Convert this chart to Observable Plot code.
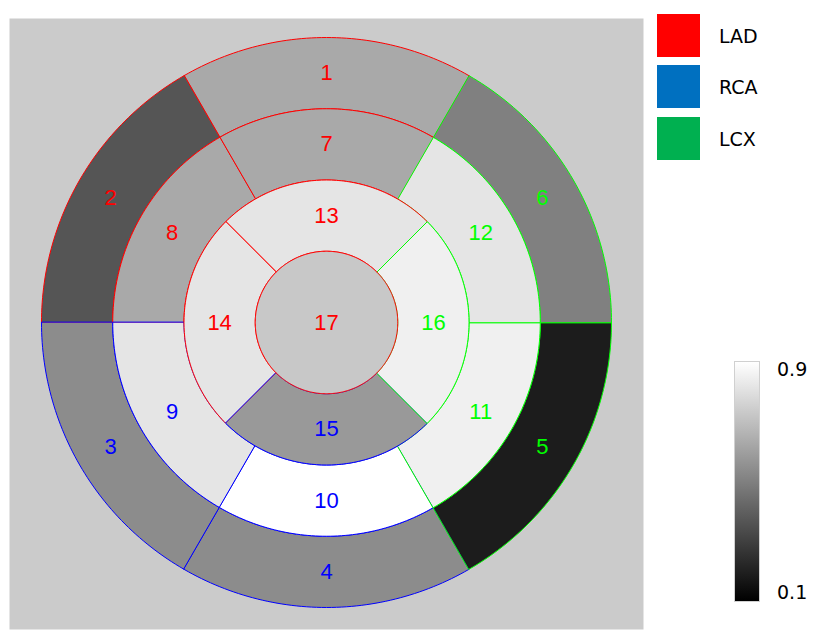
<!DOCTYPE html>
<html><head><meta charset="utf-8">
<script src="https://cdn.jsdelivr.net/npm/d3@7"></script>
<script src="https://cdn.jsdelivr.net/npm/@observablehq/plot@0.6"></script>
<style>
body{margin:0;background:#fff;}
#wrap{position:relative;width:827px;height:639px;overflow:hidden;}
#chart{position:absolute;left:0;top:0;}
.sw{position:absolute;left:657px;width:43px;height:43px;}
.lab{position:absolute;left:719px;height:43px;line-height:43px;font-family:"DejaVu Sans",sans-serif;font-size:19px;color:#000;}
#cbar{position:absolute;left:734px;top:361px;width:26px;height:241px;box-sizing:border-box;border:1px solid #d0d0d0;}
.tick{position:absolute;left:777px;height:20px;line-height:20px;font-family:"DejaVu Sans",sans-serif;font-size:19px;color:#000;}
</style></head><body>
<div id="wrap"><div id="chart"></div></div>
<script>
// ---- data ----
const segments = [1,2,3,4,5,6,7,8,9,10,11,12,13,14,15,16,17];
const values = [0.63,0.367,0.539,0.539,0.188,0.50,0.63,0.63,0.818,0.90,0.853,0.818,0.818,0.818,0.58,0.853,0.727];
const territories = ["LAD","LAD","RCA","RCA","LCX","LCX","LAD","LAD","RCA","RCA","LCX","LCX","LAD","LAD","RCA","LCX","LAD"];
const territoryNames = ["LAD","RCA","LCX"];
const legendColors = ["#ff0000","#0070c0","#00b050"];
const lineColors = ["#ff0000","#0000ff","#00ff00"];
const colorbarTicks = [0.1, 0.9];
const colorDomain = [0.1, 0.9];

// ---- bull's eye geometry (AHA 17-segment model) ----
function geom(s) {
  if (s === 17) return {r0: 0, r1: 1, a0: 0, a1: 360};
  if (s <= 6) return {r0: 3, r1: 4, a0: 60 * s, a1: 60 * s + 60};
  if (s <= 12) return {r0: 2, r1: 3, a0: 60 * (s - 6), a1: 60 * (s - 6) + 60};
  const a0 = 45 + 90 * (s - 13);
  return {r0: 1, r1: 2, a0, a1: a0 + 90};
}
const rad = Math.PI / 180;
function poly(s, i) {
  const g = geom(s), pts = [];
  const n = Math.ceil(g.a1 - g.a0);
  for (let k = 0; k <= n; k++) {
    const a = (g.a0 + (g.a1 - g.a0) * k / n) * rad;
    pts.push({x: g.r1 * Math.cos(a), y: g.r1 * Math.sin(a), value: values[i], seg: s});
  }
  if (g.r0 > 0) {
    for (let k = n; k >= 0; k--) {
      const a = (g.a0 + (g.a1 - g.a0) * k / n) * rad;
      pts.push({x: g.r0 * Math.cos(a), y: g.r0 * Math.sin(a), value: values[i], seg: s});
    }
  } else pts.pop();
  return pts;
}
const labels = segments.map((s, i) => {
  const g = geom(s);
  const r = s === 17 ? 0 : (g.r0 + g.r1) / 2, a = (g.a0 + g.a1) / 2 * rad;
  return {x: r * Math.cos(a), y: r * Math.sin(a), text: String(s), terr: territories[i]};
});
const lineColor = t => lineColors[territoryNames.indexOf(t)];

const chart = Plot.plot({
  width: 652, height: 639,
  marginLeft: 9, marginRight: 9, marginTop: 18, marginBottom: 10,
  x: {domain: [-4.449, 4.449], axis: null},
  y: {domain: [-4.309, 4.267], axis: null},
  color: {type: "linear", domain: colorDomain, range: ["black", "white"], interpolate: "rgb"},
  marks: [
    Plot.frame({fill: "#cbcbcb", stroke: "none"}),
    ...segments.map((s, i) => Plot.line(poly(s, i), {
      x: "x", y: "y", fill: "value", stroke: lineColor(territories[i]),
      strokeWidth: 1, curve: "linear-closed"
    })),
    ...territoryNames.map(t => Plot.text(labels.filter(d => d.terr === t), {
      x: "x", y: "y", text: "text", fill: lineColor(t),
      fontSize: 22, fontFamily: "Liberation Sans, Arial, sans-serif"
    }))
  ]
});
document.getElementById("chart").appendChild(chart);

// ---- legend ----
const wrap = document.getElementById("wrap");
const tops = [14, 65, 117];
territoryNames.forEach((t, i) => {
  const sw = document.createElement("div");
  sw.className = "sw"; sw.style.top = tops[i] + "px"; sw.style.background = legendColors[i];
  wrap.appendChild(sw);
  const lb = document.createElement("div");
  lb.className = "lab"; lb.style.top = (tops[i] + 1) + "px"; lb.textContent = t;
  wrap.appendChild(lb);
});
// ---- colorbar ----
const cb = document.createElement("div");
cb.id = "cbar";
const stops = d3.range(0, 1.0001, 0.1).map(f => {
  const v = colorDomain[0] + f * (colorDomain[1] - colorDomain[0]);
  return chart.scale("color").apply(v) + " " + (f * 100) + "%";
});
cb.style.background = "linear-gradient(to top, " + stops.join(", ") + ")";
wrap.appendChild(cb);
const tickY = {0.1: 592, 0.9: 369};
colorbarTicks.forEach(v => {
  const d = document.createElement("div");
  d.className = "tick"; d.style.top = (tickY[v] - 10) + "px"; d.textContent = String(v);
  wrap.appendChild(d);
});
</script>
</body></html>
